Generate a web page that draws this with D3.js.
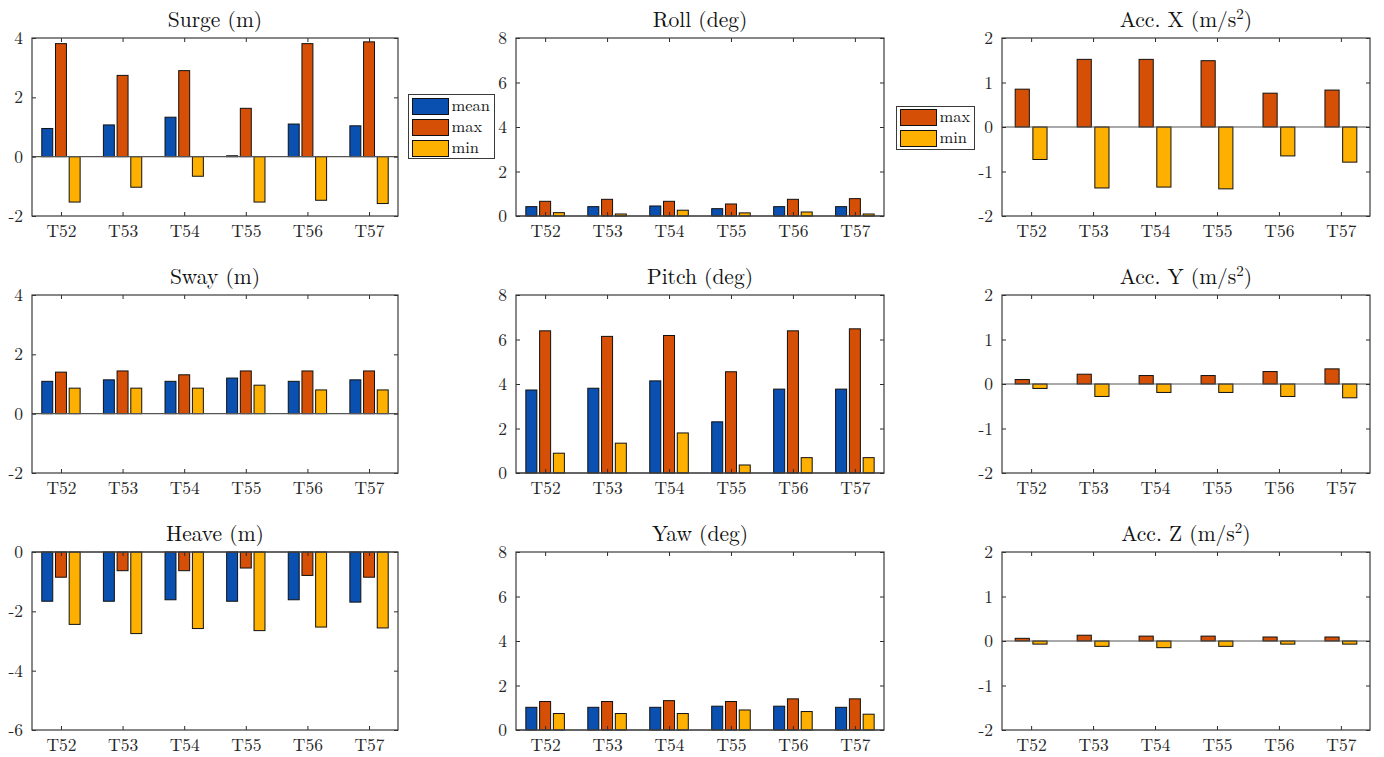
<!DOCTYPE html>
<html>
<head>
<meta charset="utf-8">
<script src="https://cdn.jsdelivr.net/npm/d3@7"></script>
<style>
  html, body { margin: 0; padding: 0; background: #fff; }
  svg { display: block; }
</style>
</head>
<body>
<svg id="chart" width="1384" height="757"></svg>
<script>
// Test runs shown along every x axis
const categories = ["T52", "T53", "T54", "T55", "T56", "T57"];

// Platform motions: mean / max / min per test
const surgeMean = [0.95, 1.07, 1.33, 0.03, 1.10, 1.04];
const surgeMax  = [3.81, 2.74, 2.90, 1.63, 3.81, 3.87];
const surgeMin  = [-1.53, -1.03, -0.66, -1.53, -1.47, -1.58];

const swayMean = [1.09, 1.14, 1.09, 1.20, 1.09, 1.14];
const swayMax  = [1.40, 1.44, 1.31, 1.44, 1.44, 1.44];
const swayMin  = [0.86, 0.86, 0.86, 0.96, 0.80, 0.80];

const heaveMean = [-1.66, -1.66, -1.61, -1.66, -1.61, -1.69];
const heaveMax  = [-0.85, -0.63, -0.63, -0.54, -0.79, -0.85];
const heaveMin  = [-2.44, -2.75, -2.58, -2.65, -2.53, -2.56];

const rollMean = [0.42, 0.42, 0.45, 0.33, 0.42, 0.42];
const rollMax  = [0.66, 0.75, 0.66, 0.54, 0.75, 0.78];
const rollMin  = [0.15, 0.09, 0.26, 0.14, 0.18, 0.09];

const pitchMean = [3.73, 3.81, 4.14, 2.30, 3.77, 3.77];
const pitchMax  = [6.39, 6.14, 6.18, 4.55, 6.39, 6.48];
const pitchMin  = [0.89, 1.34, 1.80, 0.36, 0.69, 0.69];

const yawMean = [1.02, 1.02, 1.02, 1.07, 1.07, 1.02];
const yawMax  = [1.28, 1.28, 1.32, 1.28, 1.40, 1.40];
const yawMin  = [0.74, 0.74, 0.74, 0.90, 0.83, 0.71];

// Accelerations: max / min per test
const accXMax = [0.85, 1.52, 1.52, 1.49, 0.76, 0.83];
const accXMin = [-0.73, -1.37, -1.35, -1.39, -0.65, -0.79];

const accYMax = [0.10, 0.22, 0.19, 0.19, 0.28, 0.34];
const accYMin = [-0.10, -0.28, -0.19, -0.19, -0.28, -0.31];

const accZMax = [0.06, 0.13, 0.11, 0.11, 0.09, 0.09];
const accZMin = [-0.07, -0.12, -0.15, -0.12, -0.07, -0.07];

// Y axis tick values
const ticksSurgeSway = [-2, 0, 2, 4];
const ticksHeave = [-6, -4, -2, 0];
const ticksAngles = [0, 2, 4, 6, 8];
const ticksAcc = [-2, -1, 0, 1, 2];

const seriesNames3 = ["mean", "max", "min"];
const seriesNames2 = ["max", "min"];

const colorMap = { mean: "#0a50b0", max: "#d64f06", min: "#fdb000" };
const FONT = '"Latin Modern Roman", "Liberation Serif", serif';

// Panel grid geometry
const colBoxes = [{ x: 32, w: 366 }, { x: 516, w: 368 }, { x: 1002, w: 368 }];
const rowBoxes = [{ y: 38, h: 178 }, { y: 295, h: 178 }, { y: 552, h: 178 }];

const panels = [
  { r: 0, c: 0, title: "Surge (m)", dom: [-2, 4], ticks: ticksSurgeSway, names: seriesNames3, series: [surgeMean, surgeMax, surgeMin] },
  { r: 1, c: 0, title: "Sway (m)", dom: [-2, 4], ticks: ticksSurgeSway, names: seriesNames3, series: [swayMean, swayMax, swayMin] },
  { r: 2, c: 0, title: "Heave (m)", dom: [-6, 0], ticks: ticksHeave, names: seriesNames3, series: [heaveMean, heaveMax, heaveMin] },
  { r: 0, c: 1, title: "Roll (deg)", dom: [0, 8], ticks: ticksAngles, names: seriesNames3, series: [rollMean, rollMax, rollMin] },
  { r: 1, c: 1, title: "Pitch (deg)", dom: [0, 8], ticks: ticksAngles, names: seriesNames3, series: [pitchMean, pitchMax, pitchMin] },
  { r: 2, c: 1, title: "Yaw (deg)", dom: [0, 8], ticks: ticksAngles, names: seriesNames3, series: [yawMean, yawMax, yawMin] },
  { r: 0, c: 2, title: "Acc. X", dom: [-2, 2], ticks: ticksAcc, names: seriesNames2, series: [accXMax, accXMin], unitSq: true },
  { r: 1, c: 2, title: "Acc. Y", dom: [-2, 2], ticks: ticksAcc, names: seriesNames2, series: [accYMax, accYMin], unitSq: true },
  { r: 2, c: 2, title: "Acc. Z", dom: [-2, 2], ticks: ticksAcc, names: seriesNames2, series: [accZMax, accZMin], unitSq: true }
];

const svg = d3.select("#chart");
const axisColor = "#2b2b2b";
const tickLen = 4;

panels.forEach(p => {
  const bx = colBoxes[p.c], by = rowBoxes[p.r];
  const g = svg.append("g").attr("transform", `translate(${bx.x},${by.y})`);
  const W = bx.w, H = by.h;

  const x = d3.scaleLinear().domain([0.53, categories.length + 0.47]).range([0, W]);
  const y = d3.scaleLinear().domain(p.dom).range([H, 0]);

  // grouped bar layout
  const n = p.series.length;
  const groupWidth = Math.min(0.8, n / (n + 1.5));
  const step = groupWidth / n;
  const barW = step * 0.8;

  p.series.forEach((vals, si) => {
    const off = (si - (n - 1) / 2) * step;
    g.selectAll(null)
      .data(vals)
      .enter()
      .append("rect")
      .attr("x", (d, i) => x(i + 1 + off - barW / 2))
      .attr("width", x(barW) - x(0))
      .attr("y", d => Math.min(y(d), y(0)))
      .attr("height", d => Math.abs(y(d) - y(0)))
      .attr("fill", colorMap[p.names[si]])
      .attr("stroke", "#111")
      .attr("stroke-width", 1);
  });

  // zero baseline
  g.append("line")
    .attr("x1", 0).attr("x2", W)
    .attr("y1", y(0)).attr("y2", y(0))
    .attr("stroke", "#555").attr("stroke-width", 1.2);

  // axes: bottom labels, inward ticks on all four sides
  const xb = d3.axisBottom(x)
    .tickValues(categories.map((c, i) => i + 1))
    .tickFormat((d) => categories[d - 1])
    .tickSizeInner(-tickLen).tickSizeOuter(0).tickPadding(12);
  const gx = g.append("g").attr("transform", `translate(0,${H})`).call(xb);
  gx.select(".domain").remove();
  gx.selectAll("line").attr("stroke", axisColor);
  gx.selectAll("text")
    .attr("y", 21).attr("dy", null)
    .style("font-family", FONT).style("font-size", "17.5px").attr("fill", "#262626");

  const xt = d3.axisTop(x)
    .tickValues(categories.map((c, i) => i + 1))
    .tickFormat("").tickSizeInner(-tickLen).tickSizeOuter(0);
  const gxt = g.append("g").call(xt);
  gxt.select(".domain").remove();
  gxt.selectAll("line").attr("stroke", axisColor);

  const yl = d3.axisLeft(y)
    .tickValues(p.ticks)
    .tickFormat(d => (d < 0 ? "-" + Math.abs(d) : String(d)))
    .tickSizeInner(-tickLen).tickSizeOuter(0).tickPadding(9);
  const gy = g.append("g").call(yl);
  gy.select(".domain").remove();
  gy.selectAll("line").attr("stroke", axisColor);
  gy.selectAll("text")
    .style("font-family", FONT).style("font-size", "17.5px").attr("fill", "#262626");

  const yr = d3.axisRight(y).tickValues(p.ticks).tickFormat("")
    .tickSizeInner(-tickLen).tickSizeOuter(0);
  const gyr = g.append("g").attr("transform", `translate(${W},0)`).call(yr);
  gyr.select(".domain").remove();
  gyr.selectAll("line").attr("stroke", axisColor);

  // box outline
  g.append("rect")
    .attr("x", 0).attr("y", 0).attr("width", W).attr("height", H)
    .attr("fill", "none").attr("stroke", "#3a3a3a").attr("stroke-width", 1.2);

  // title
  const t = g.append("text")
    .attr("x", W / 2).attr("y", -11)
    .attr("text-anchor", "middle")
    .style("font-family", FONT).style("font-size", "21.5px")
    .attr("fill", "#111")
    .text(p.title);
  if (p.unitSq) {
    t.append("tspan").text(" (m/s");
    t.append("tspan").style("font-size", "15px").attr("dy", -8).text("2");
    t.append("tspan").attr("dy", 8).text(")");
  }
});

// Legends
function legend(x0, y0, w, h, names, y1, gap) {
  const lg = svg.append("g").attr("transform", `translate(${x0},${y0})`);
  lg.append("rect").attr("width", w).attr("height", h)
    .attr("fill", "#fff").attr("stroke", "#3a3a3a").attr("stroke-width", 1);
  names.forEach((nm, i) => {
    const cy = y1 + i * gap;
    lg.append("rect")
      .attr("x", 4).attr("y", cy - 8).attr("width", 36).attr("height", 16)
      .attr("fill", colorMap[nm]).attr("stroke", "#111").attr("stroke-width", 1);
    lg.append("text")
      .attr("x", 43).attr("y", cy).attr("dy", "0.3em")
      .style("font-family", FONT).style("font-size", "16.5px")
      .attr("fill", "#111")
      .text(nm);
  });
}
legend(408.5, 94.5, 86, 64, seriesNames3, 12, 21);
legend(896.5, 106.5, 78, 43, seriesNames2, 11, 21);
</script>
</body>
</html>
